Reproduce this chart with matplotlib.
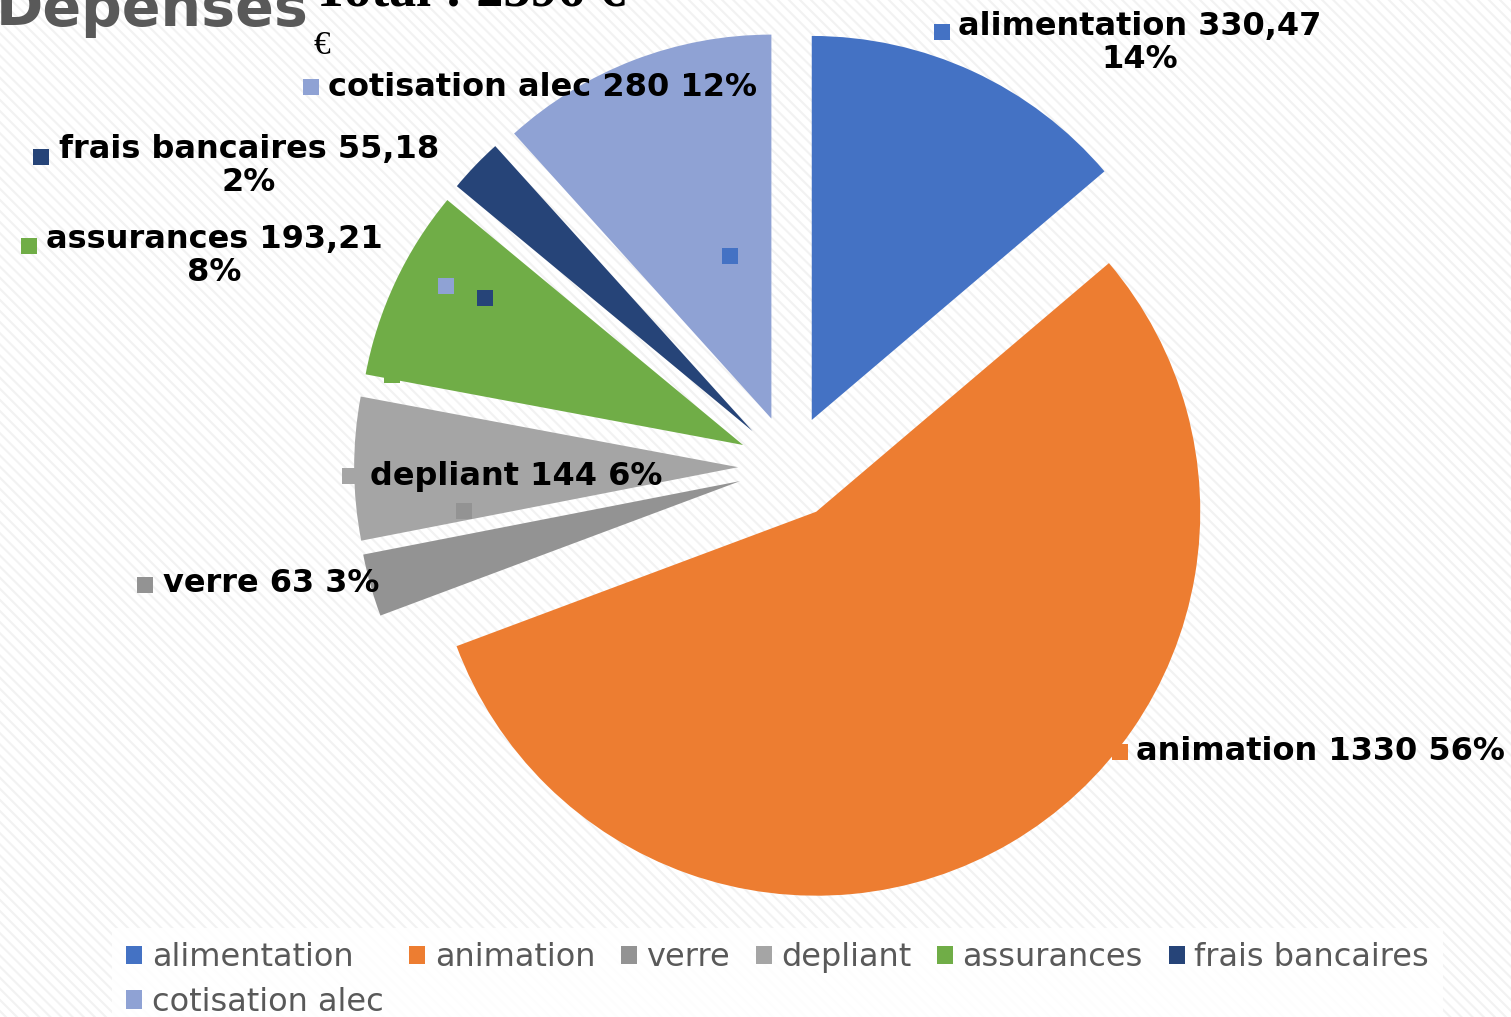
import matplotlib
matplotlib.use("Agg")
import matplotlib.pyplot as plt
from matplotlib.patches import Rectangle, Patch

# data
categories = ["alimentation", "animation", "verre", "depliant",
              "assurances", "frais bancaires", "cotisation alec"]
values = [330.47, 1330, 63, 144, 193.21, 55.18, 280]
colors = ["#4472C4", "#ED7D31", "#939393", "#A5A5A5",
          "#70AD47", "#264478", "#8FA2D4"]
title = "Depenses"
subtitle = "Total : 2396 €"

# layout (pixels from top-left of the 1511x1017 image)
W, H = 1511, 1017
cx, cy, R = 790, 467, 384
# text centre, square position, wrap percent to second line
label_pos = {
    "alimentation": (1140, 43, 942, 32, True),
    "animation": (1320, 752, 1120, 752, False),
    "verre": (271, 584, 145, 585, False),
    "depliant": (516, 476, 350, 476, False),
    "assurances": (214, 256, 29, 246, True),
    "frais bancaires": (249, 166, 41, 157, True),
    "cotisation alec": (542, 87, 311, 87, False),
}
# stray marker squares seen inside the pie
stray = [(730, 256, 0), (446, 286, 6), (485, 298, 5), (464, 511, 2), (392, 375, 4)]


def fx(x):
    return x / W


def fy(y):
    return 1 - y / H


fig = plt.figure(figsize=(W / 100, H / 100), dpi=100)
plt.rcParams["hatch.linewidth"] = 1.5
bg = Rectangle((0, 0), 1, 1, transform=fig.transFigure, facecolor="white",
               edgecolor="#f2f2f2", hatch="\\\\\\", lw=0, zorder=-10)
fig.patches.append(bg)

ax = fig.add_axes([0, 0, 1, 1])
ax.patch.set_alpha(0)
ax.pie(values, colors=colors, startangle=90, counterclock=False,
       explode=[0.135] * len(values), wedgeprops=dict(linewidth=0))
ax.set_xlim(-cx / R, (W - cx) / R)
ax.set_ylim(-(H - cy) / R, cy / R)
ax.axis("off")

total = sum(values)


def fmt(v):
    if abs(v - round(v)) < 1e-9:
        return str(int(round(v)))
    return f"{v:.2f}".replace(".", ",")


sq = 16
for i, name in enumerate(categories):
    tx, ty, sx, sy, wrap = label_pos[name]
    pct = round(values[i] / total * 100)
    sep = "\n" if wrap else " "
    s = f"{name} {fmt(values[i])}{sep}{pct}%"
    fig.text(fx(tx), fy(ty), s, ha="center", va="center", ma="center",
             fontsize=23, fontweight="bold", color="black",
             linespacing=1.1, zorder=5)
    fig.patches.append(Rectangle((fx(sx - sq / 2), fy(sy + sq / 2)), sq / W, sq / H,
                                 transform=fig.transFigure, facecolor=colors[i],
                                 lw=0, zorder=4))

for sx, sy, ci in stray:
    fig.patches.append(Rectangle((fx(sx - sq / 2), fy(sy + sq / 2)), sq / W, sq / H,
                                 transform=fig.transFigure, facecolor=colors[ci],
                                 lw=0, zorder=4))

# titles (cut off at the top, as in the source)
fig.text(fx(-4), fy(26), title, fontsize=41, fontweight="bold", color="#595959",
         ha="left", va="baseline")
fig.text(fx(313), fy(6), subtitle, fontsize=39, fontweight="bold",
         family="Liberation Serif", color="black", ha="left", va="baseline")
fig.text(fx(313), fy(54), "€", fontsize=24, family="Liberation Serif",
         color="black", ha="left", va="baseline")

# legend: first column holds alimentation and cotisation alec
order = [0, 6, 1, 2, 3, 4, 5]
handles = [Patch(facecolor=colors[i], label=categories[i]) for i in order]
leg = fig.legend(handles=handles, ncol=6, loc="upper left",
                 bbox_to_anchor=(fx(112), fy(928)), borderaxespad=0,
                 fontsize=23, frameon=True, fancybox=False,
                 handlelength=0.5, handleheight=0.5, handletextpad=0.3,
                 columnspacing=0.8, labelspacing=0.42, borderpad=0.45)
leg.get_frame().set_facecolor("white")
leg.get_frame().set_edgecolor("none")
leg.get_frame().set_alpha(0.9)
for t in leg.get_texts():
    t.set_color("#595959")

fig.savefig("out.png", dpi=100)
